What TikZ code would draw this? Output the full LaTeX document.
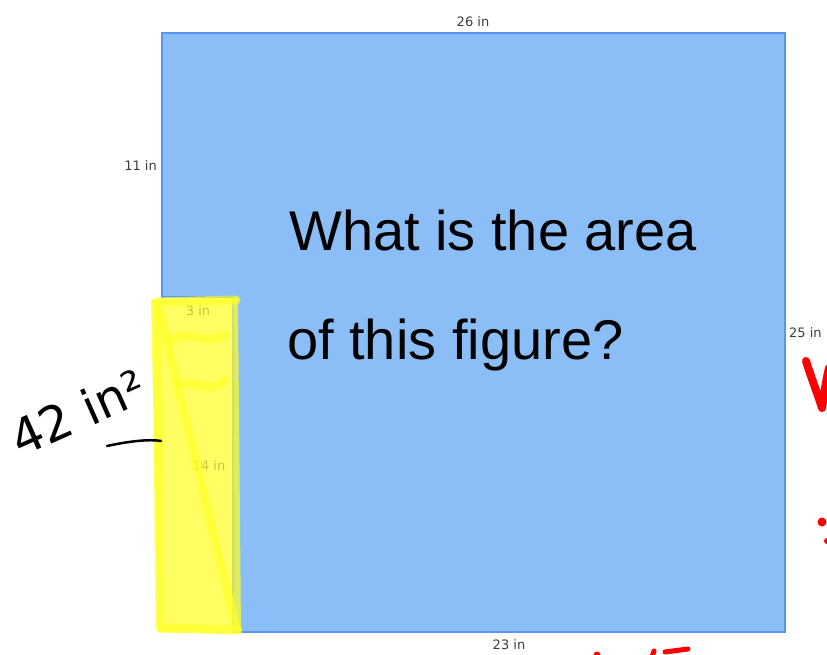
\documentclass[tikz,border=0pt]{standalone}
\usepackage{fontspec}
\setmainfont{Liberation Sans}
\newfontfamily\labelfont{DejaVu Sans}
\newfontfamily\handfont{DejaVu Sans}
\definecolor{shapefill}{RGB}{139,190,247}
\definecolor{shapeedge}{RGB}{90,150,240}
\definecolor{dimgray}{RGB}{60,60,60}
\definecolor{hl}{RGB}{255,255,40}
\definecolor{penred}{RGB}{255,0,0}
\tikzset{
  dimlabel/.style={font=\labelfont\fontsize{13}{15}\selectfont, text=dimgray, inner sep=0pt},
  question/.style={font=\fontsize{56}{60}\selectfont, text=black, inner sep=0pt, anchor=base west},
  hlstroke/.style={draw=hl, line width=9pt, line cap=round, line join=round, opacity=0.7},
  redpen/.style={draw=penred, line width=7pt, line cap=round, line join=round},
}
\begin{document}
\begin{tikzpicture}[x=1pt,y=-1pt]
\useasboundingbox (0,0) rectangle (827,655);
% L-shaped figure
\draw[fill=shapefill, draw=shapeedge, line width=2.2pt, line join=miter]
  (162,33) coordinate (tl) -- (785,33) coordinate (tr) -- (785,632) coordinate (br)
  -- (233,632) coordinate (bl) -- (233,297) coordinate (ni) -- (162,297) coordinate (nl) -- cycle;
% dimension labels
\node[dimlabel] (l26) at (473,22) {26 in};
\node[dimlabel, anchor=east] (l11) at (157,166) {11 in};
\node[dimlabel] (l3) at (198,311) {3 in};
\node[dimlabel] (l14) at (209,466) {14 in};
\node[dimlabel, anchor=west] (l25) at (789,333) {25 in};
\node[dimlabel] (l23) at (509,645) {23 in};
% question
\node[question] (q1) at (289,250) {What is the area};
\node[question] (q2) at (287,359) {of this figure?};
% yellow highlight
\fill[hl, opacity=0.72] (151,300) -- (238,298) -- (241,633) -- (158,632) -- cycle;
\draw[hlstroke] (156,302) -- (236,300);
\draw[hlstroke] (160,312) -- (236,628);
\draw[hlstroke] (157,305) -- (160,628) -- (238,630);
\draw[hlstroke] (170,340) .. controls (190,330) and (205,345) .. (225,335);
\draw[hlstroke] (180,385) .. controls (200,380) and (210,395) .. (225,380);
% handwritten answer
\node[font=\handfont\fontsize{49}{54}\selectfont, rotate=24, inner sep=0pt, anchor=base west] (ans) at (20,458)
  {42 in²};
\coordinate (u1) at (107,446);
\coordinate (u2) at (161,441);
\draw[line width=2.5pt, line cap=round] (u1) .. controls (130,441) and (150,439) .. (u2);
% red pen marks (cut by the border)
\draw[redpen, line width=8pt] (806,361) .. controls (812,380) and (818,395) .. (822,408) .. controls (824,395) and (826,380) .. (829,368);
\fill[penred] (822,522) circle (4.5);
\fill[penred] (827,541) circle (3);
\fill[penred] (597,655) circle (3.5);
\draw[redpen, line width=5pt] (651,660) -- (654,651);
\draw[redpen, line width=5pt] (665,652) -- (688,649);
\end{tikzpicture}
\end{document}
